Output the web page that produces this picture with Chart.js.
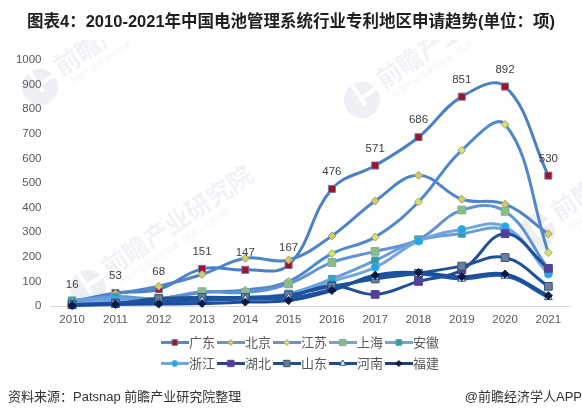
<!DOCTYPE html>
<html lang="zh">
<head>
<meta charset="utf-8">
<title>中国电池管理系统行业专利地区申请趋势</title>
<script src="https://cdn.jsdelivr.net/npm/chart.js@4/dist/chart.umd.min.js"></script>
<style>
  html, body { margin: 0; padding: 0; background: #fff; }
  #page { position: relative; width: 582px; height: 416px; overflow: hidden; font-family: "Liberation Sans", "Noto Sans CJK SC", sans-serif; }
  #chart { position: absolute; left: 0; top: 0; }
  .note { position: absolute; white-space: nowrap; }
  #heading { left: 27px; top: 8px; font-size: 16.5px; font-weight: bold; color: #1f1f1f; }
  #source { left: 8px; top: 386px; font-size: 13px; color: #333; }
  #brand { right: 0; top: 386px; font-size: 13px; color: #333; }
</style>
</head>
<body>
<div id="page">
  <canvas id="chart" width="582" height="416"></canvas>
  <div class="note" id="heading">图表4：2010-2021年中国电池管理系统行业专利地区申请趋势(单位：项)</div>
  <div class="note" id="source">资料来源：Patsnap 前瞻产业研究院整理</div>
  <div class="note" id="brand">@前瞻经济学人APP</div>
</div>
<script>
// Years and patent counts per region
const years = ['2010', '2011', '2012', '2013', '2014', '2015', '2016', '2017', '2018', '2019', '2020', '2021'];
const guangdong = [16, 53, 68, 151, 147, 167, 476, 571, 686, 851, 892, 530];
const beijing = [20, 50, 80, 128, 194, 187, 285, 427, 531, 434, 414, 293];
const jiangsu = [12, 30, 30, 55, 65, 100, 213, 280, 423, 633, 738, 217];
const shanghai = [20, 38, 30, 58, 55, 90, 177, 222, 270, 390, 385, 150];
const anhui = [22, 35, 22, 30, 35, 50, 110, 185, 267, 294, 308, 145];
const zhejiang = [10, 22, 18, 30, 30, 45, 100, 157, 264, 311, 322, 130];
const hubei = [5, 12, 20, 25, 32, 40, 82, 47, 100, 146, 294, 153];
const shandong = [6, 10, 30, 35, 35, 45, 80, 110, 133, 162, 197, 80];
const henan = [4, 8, 14, 22, 28, 33, 68, 118, 130, 110, 122, 35];
const fujian = [2, 6, 8, 10, 16, 22, 63, 125, 136, 119, 130, 42];
const yTicks = [0, 100, 200, 300, 400, 500, 600, 700, 800, 900, 1000];

// One style entry per region, in legend order
const regions = [
  { name: '广东', data: guangdong, line: '#4a80c8', legendLine: '#5b86c5', fill: '#a50f2d', edge: '#6d7f9e', shape: 'rect', size: 5 },
  { name: '北京', data: beijing, line: '#4f83cc', legendLine: '#6f93c8', fill: '#d6cc62', edge: '#9aa06a', shape: 'rectRot', size: 4 },
  { name: '江苏', data: jiangsu, line: '#5088d0', legendLine: '#6f93c8', fill: '#d8e468', edge: '#9aa878', shape: 'rectRot', size: 4 },
  { name: '上海', data: shanghai, line: '#5f92d6', legendLine: '#7f9fce', fill: '#84c084', edge: '#8aa8a0', shape: 'rect', size: 5.5 },
  { name: '安徽', data: anhui, line: '#6a9cdc', legendLine: '#80a0d0', fill: '#2f9e9e', edge: '#5a9ab0', shape: 'rect', size: 5 },
  { name: '浙江', data: zhejiang, line: '#6fa8e0', legendLine: '#6ea8dc', fill: '#22a5e4', edge: '#4fb0e4', shape: 'circle', size: 4 },
  { name: '湖北', data: hubei, line: '#1f4f96', legendLine: '#264a8c', fill: '#5b3a9e', edge: '#4a4a90', shape: 'rect', size: 5.5 },
  { name: '山东', data: shandong, line: '#1f5298', legendLine: '#1f4e8c', fill: '#6b7f99', edge: '#34507c', shape: 'rect', size: 5.5 },
  { name: '河南', data: henan, line: '#1d55a8', legendLine: '#1f4e8c', fill: '#ffffff', edge: '#1f4e8c', shape: 'triangle', size: 4.5 },
  { name: '福建', data: fujian, line: '#1b4f9e', legendLine: '#1f3f7a', fill: '#0a1a40', edge: '#0a1a40', shape: 'rectRot', size: 4 }
];

// Small line-plus-marker image for a legend entry
function legendIcon(region) {
  const icon = document.createElement('canvas');
  icon.width = 28;
  icon.height = 11;
  const ctx = icon.getContext('2d');
  ctx.strokeStyle = region.legendLine;
  ctx.lineWidth = 3;
  ctx.beginPath();
  ctx.moveTo(0, 5.5);
  ctx.lineTo(28, 5.5);
  ctx.stroke();
  ctx.fillStyle = region.fill;
  ctx.strokeStyle = region.edge;
  ctx.lineWidth = 1;
  Chart.helpers.drawPoint(ctx, { pointStyle: region.shape, radius: region.size - 1, rotation: 0, borderWidth: 1 }, 14, 5.5);
  return icon;
}

// Pale brand stamp: round logo with rotated text
function drawStamp(ctx, x, y) {
  ctx.save();
  ctx.fillStyle = '#eef0f5';
  ctx.beginPath();
  ctx.arc(x, y, 18, 0, Math.PI * 2);
  ctx.fill();
  ctx.translate(x, y);
  ctx.rotate(-34 * Math.PI / 180);
  ctx.fillStyle = '#ffffff';
  ctx.fillRect(-2, -20, 4, 26);
  ctx.fillRect(-2, -4, 22, 4);
  ctx.fillStyle = '#f0f2f6';
  ctx.font = 'bold 25px "Noto Sans CJK SC"';
  ctx.textBaseline = 'middle';
  ctx.fillText('前瞻产业研究院', 24, -6);
  ctx.fillStyle = '#f2f4f7';
  ctx.font = '8px "Noto Sans CJK SC"';
  ctx.fillText('中国产业咨询领导者（股票：839599）', 28, 14);
  ctx.restore();
}

const stampPlugin = {
  id: 'stamps',
  beforeDraw(chart) {
    const ctx = chart.ctx;
    ctx.save();
    ctx.beginPath();
    ctx.rect(0, 40, 582, 300);
    ctx.clip();
    drawStamp(ctx, 40, 87);
    drawStamp(ctx, 88, 288);
    drawStamp(ctx, 362, 100);
    drawStamp(ctx, 537, 232);
    ctx.restore();
  }
};

// Wraps the legend to two rows of five; left and right decide where the rows start and break
const legendFit = {
  id: 'legendFit',
  beforeLayout(chart) {
    const legend = chart.legend;
    if (legend.fit === Object.getPrototypeOf(legend).fit) {
      const baseFit = legend.fit;
      legend.fit = function () {
        this.maxWidth = 290;
        baseFit.call(this);
      };
    }
  },
  afterLayout(chart) {
    chart.legend.left = 156;
    chart.legend.right = 450;
  }
};

// Value labels above the first series
const valueLabels = {
  id: 'valueLabels',
  afterDatasetsDraw(chart) {
    const ctx = chart.ctx;
    const meta = chart.getDatasetMeta(0);
    ctx.save();
    ctx.font = '11.5px "Liberation Sans"';
    ctx.fillStyle = '#404040';
    ctx.textAlign = 'center';
    ctx.textBaseline = 'middle';
    meta.data.forEach((point, i) => {
      ctx.fillText(String(guangdong[i]), point.x, point.y - 17);
    });
    ctx.restore();
  }
};

new Chart(document.getElementById('chart'), {
  type: 'line',
  data: {
    labels: years,
    datasets: regions.map((region, i) => ({
      label: region.name,
      data: region.data,
      borderColor: region.line,
      borderWidth: 3,
      tension: 0.4,
      pointStyle: region.shape,
      pointRadius: region.size,
      pointBackgroundColor: region.fill,
      pointBorderColor: region.edge,
      pointBorderWidth: 1,
      clip: false,
      order: -i
    }))
  },
  plugins: [stampPlugin, legendFit, valueLabels],
  options: {
    responsive: false,
    animation: false,
    layout: { padding: { top: 60, bottom: 36, left: 0, right: 12 } },
    scales: {
      x: {
        offset: true,
        afterFit(scale) { scale.height = 22; },
        grid: { display: false, drawTicks: false },
        border: { color: '#d9d9d9' },
        ticks: { color: '#595959', font: { size: 11.5, family: '"Liberation Sans"' }, padding: 7, maxRotation: 0 }
      },
      y: {
        min: 0,
        max: 1000,
        afterFit(scale) { scale.width = 50.5; },
        afterBuildTicks(scale) { scale.ticks = yTicks.map(value => ({ value })); },
        grid: { display: false, drawTicks: false },
        border: { display: false },
        ticks: { color: '#595959', font: { size: 11.5, family: '"Liberation Sans"' }, padding: 9, callback: value => String(value) }
      }
    },
    plugins: {
      tooltip: { enabled: false },
      legend: {
        position: 'bottom',
        labels: {
          usePointStyle: true,
          pointStyleWidth: 15.5,
          padding: 8,
          color: '#595959',
          font: { size: 13, family: '"Noto Sans CJK SC"' },
          sort: (a, b) => a.datasetIndex - b.datasetIndex,
          generateLabels(chart) {
            return Chart.defaults.plugins.legend.labels.generateLabels(chart).map(item => {
              item.pointStyle = legendIcon(regions[item.datasetIndex]);
              return item;
            });
          }
        }
      }
    }
  }
});
</script>
</body>
</html>
